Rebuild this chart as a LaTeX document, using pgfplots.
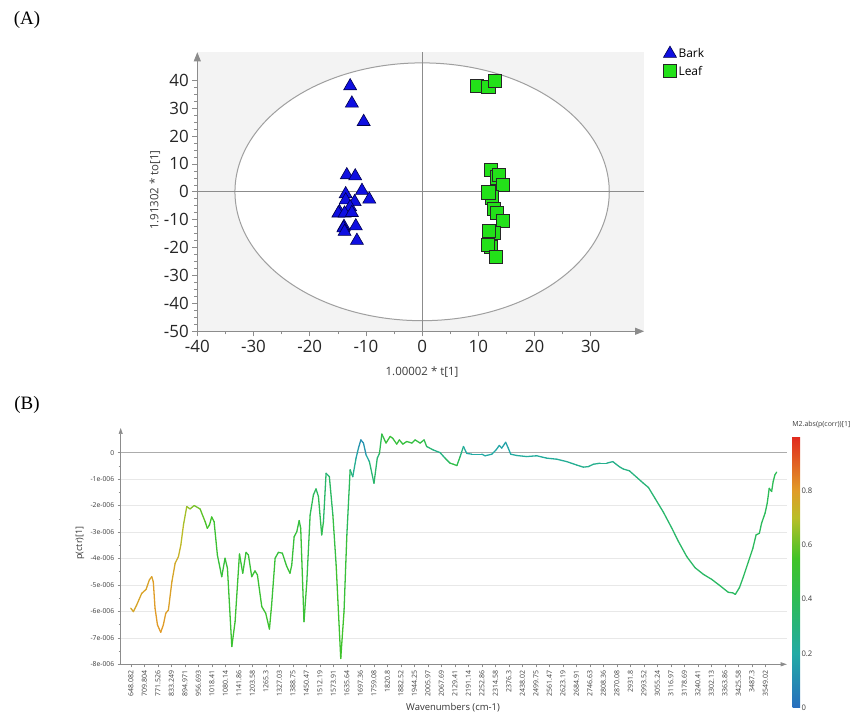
\documentclass[border=0pt]{standalone}
\usepackage{pgfplots}
\usepackage{pgfplotstable}
\pgfplotsset{compat=1.18}
\usepackage{fontspec}
\setmainfont{Open Sans}
\newfontfamily\seriffont{Liberation Serif}
\usetikzlibrary{arrows.meta}

\definecolor{barkblue}{RGB}{15,15,225}
\definecolor{leafgreen}{RGB}{35,225,25}
\definecolor{axgray}{RGB}{140,140,140}
\definecolor{bggray}{RGB}{243,243,243}
\definecolor{lblgray}{RGB}{60,60,60}

\pgfplotsset{colormap={simca}{rgb255(0pt)=(40,110,190); rgb255(20pt)=(35,170,165); rgb255(40pt)=(45,188,85); rgb255(55pt)=(65,195,40); rgb255(70pt)=(185,190,40); rgb255(80pt)=(225,155,40); rgb255(100pt)=(225,40,30)}}

% OPLS-DA scores
\pgfplotstableread{
t to
-12.8 37.9
-12.5 31.7
-10.4 25.1
-13.4 6.0
-11.9 5.6
-10.7 0.4
-9.4 -2.7
-13.6 -0.8
-13.6 -3.0
-12.0 -3.6
-12.8 -5.5
-14.7 -7.2
-14.9 -7.7
-13.8 -7.7
-12.5 -7.5
-13.9 -12.5
-14.0 -13.0
-11.8 -12.3
-13.8 -14.3
-11.6 -17.5
}\barkdata

\pgfplotstableread{
t to
9.8 38.0
11.8 37.6
12.9 39.8
12.2 7.8
13.4 5.2
13.6 6.0
14.4 2.4
12.4 -2.0
11.8 -0.2
12.7 -6.0
13.3 -7.5
14.3 -10.4
12.8 -14.8
11.9 -14.1
12.2 -19.7
11.7 -18.9
13.1 -23.3
}\leafdata

% loading p(ctr)[1] with |p(corr)|
\pgfplotstableread{
w v c
648 -5.88e-6 0.76
660 -6.01e-6 0.77
675 -5.76e-6 0.77
698 -5.32e-6 0.78
718 -5.17e-6 0.78
733 -4.81e-6 0.78
744 -4.69e-6 0.78
751 -4.88e-6 0.79
759 -5.88e-6 0.8
770 -6.51e-6 0.8
785 -6.79e-6 0.8
797 -6.51e-6 0.8
808 -6.07e-6 0.79
820 -5.95e-6 0.79
836 -4.88e-6 0.78
851 -4.18e-6 0.76
866 -3.93e-6 0.74
877 -3.49e-6 0.72
889 -2.73e-6 0.69
904 -2.04e-6 0.66
919 -2.13e-6 0.64
938 -2.00e-6 0.62
965 -2.13e-6 0.6
988 -2.61e-6 0.57
998 -2.86e-6 0.55
1008 -2.73e-6 0.55
1018 -2.43e-6 0.54
1029 -2.61e-6 0.53
1044 -3.87e-6 0.5
1064 -4.69e-6 0.48
1079 -3.99e-6 0.48
1090 -4.37e-6 0.5
1110 -7.33e-6 0.52
1125 -6.39e-6 0.52
1145 -3.83e-6 0.5
1160 -4.56e-6 0.5
1175 -3.77e-6 0.5
1186 -3.87e-6 0.5
1201 -4.69e-6 0.5
1216 -4.47e-6 0.5
1227 -4.62e-6 0.5
1247 -5.82e-6 0.52
1265 -6.07e-6 0.52
1282 -6.67e-6 0.53
1292 -5.76e-6 0.52
1308 -3.99e-6 0.48
1323 -3.77e-6 0.48
1341 -3.80e-6 0.48
1361 -4.30e-6 0.5
1376 -4.56e-6 0.5
1384 -4.25e-6 0.5
1395 -3.18e-6 0.48
1407 -2.99e-6 0.48
1418 -2.57e-6 0.46
1425 -2.86e-6 0.48
1440 -6.39e-6 0.52
1453 -4.88e-6 0.48
1468 -2.36e-6 0.42
1483 -1.60e-6 0.38
1495 -1.37e-6 0.37
1506 -1.66e-6 0.38
1521 -3.11e-6 0.44
1529 -2.61e-6 0.4
1541 -0.78e-6 0.3
1556 -0.91e-6 0.32
1572 -2.36e-6 0.42
1587 -4.25e-6 0.5
1608 -7.78e-6 0.55
1623 -6.01e-6 0.53
1636 -3.11e-6 0.45
1651 -0.65e-6 0.32
1663 -0.91e-6 0.3
1678 -0.21e-6 0.2
1689 0.17e-6 0.15
1700 0.48e-6 0.1
1712 0.36e-6 0.1
1724 -0.09e-6 0.16
1739 -0.34e-6 0.25
1760 -1.16e-6 0.4
1775 -0.21e-6 0.3
1785 -0.03e-6 0.35
1796 0.70e-6 0.45
1815 0.36e-6 0.48
1834 0.61e-6 0.5
1846 0.54e-6 0.48
1864 0.32e-6 0.48
1876 0.48e-6 0.48
1892 0.32e-6 0.47
1910 0.42e-6 0.47
1933 0.36e-6 0.46
1948 0.48e-6 0.46
1971 0.36e-6 0.45
1989 0.48e-6 0.45
2001 0.23e-6 0.38
2031 0.10e-6 0.28
2062 0.00 0.25
2085 -0.21e-6 0.32
2108 -0.40e-6 0.42
2123 -0.44e-6 0.45
2139 -0.49e-6 0.46
2154 -0.15e-6 0.35
2169 0.23e-6 0.22
2184 -0.03e-6 0.2
2207 -0.06e-6 0.2
2230 -0.06e-6 0.2
2253 -0.06e-6 0.2
2268 -0.12e-6 0.2
2299 -0.06e-6 0.2
2318 0.10e-6 0.2
2333 0.27e-6 0.18
2344 0.17e-6 0.18
2362 0.39e-6 0.17
2374 0.17e-6 0.18
2385 -0.06e-6 0.2
2413 -0.11e-6 0.22
2458 -0.15e-6 0.22
2504 -0.12e-6 0.22
2550 -0.21e-6 0.22
2596 -0.25e-6 0.23
2641 -0.34e-6 0.24
2687 -0.47e-6 0.25
2717 -0.55e-6 0.26
2740 -0.53e-6 0.26
2763 -0.44e-6 0.26
2794 -0.40e-6 0.26
2824 -0.40e-6 0.26
2852 -0.34e-6 0.26
2867 -0.44e-6 0.27
2885 -0.55e-6 0.28
2900 -0.62e-6 0.28
2928 -0.69e-6 0.29
2962 -0.94e-6 0.3
2992 -1.16e-6 0.31
3015 -1.32e-6 0.32
3045 -1.73e-6 0.33
3083 -2.25e-6 0.34
3122 -2.86e-6 0.35
3152 -3.36e-6 0.35
3190 -3.93e-6 0.36
3228 -4.35e-6 0.36
3266 -4.60e-6 0.36
3304 -4.79e-6 0.36
3342 -5.03e-6 0.37
3380 -5.28e-6 0.37
3400 -5.30e-6 0.37
3412 -5.36e-6 0.37
3431 -5.10e-6 0.37
3449 -4.69e-6 0.37
3472 -4.12e-6 0.38
3492 -3.62e-6 0.38
3507 -3.11e-6 0.38
3522 -3.05e-6 0.38
3532 -2.67e-6 0.38
3548 -2.29e-6 0.39
3558 -1.91e-6 0.39
3567 -1.35e-6 0.4
3578 -1.47e-6 0.4
3585 -1.10e-6 0.4
3593 -0.84e-6 0.4
3601 -0.74e-6 0.4
}\spec

\begin{document}
\begin{tikzpicture}[x=1bp,y=1bp]
\useasboundingbox (0,0) rectangle (855,712);
\node[font=\seriffont\fontsize{19}{19}\selectfont] at (27,692) {(A)};
\node[font=\seriffont\fontsize{19}{19}\selectfont] at (27,307) {(B)};
\coordinate (cbpos) at (792.7,4);

% ---------- (A) scores plot ----------
\begin{axis}[
  at={(197.3bp,380.7bp)}, anchor=south west,
  scale only axis, width=446.8bp, height=279bp,
  xmin=-40, xmax=39.5, ymin=-50, ymax=50,
  axis lines=left,
  axis line style={axgray, line width=0.8bp, -{Triangle[length=9bp,width=7bp]}},
  axis background/.style={fill=bggray},
  xtick={-40,-30,...,30}, ytick={-50,-40,...,40},
  minor x tick num=1, minor y tick num=3,
  tick align=outside, major tick length=5bp, minor tick length=3bp,
  tick style={axgray, line width=0.6bp},
  tick label style={font=\fontsize{17}{17}\selectfont, text=black!85},
  /pgf/number format/assume math mode=true,
  xlabel={1.00002 * t[1]}, ylabel={1.91302 * to[1]},
  every axis x label/.style={at={(axis description cs:0.503,-0.146)}, anchor=center,
    font=\fontsize{11.5}{12}\selectfont, text=lblgray},
  every axis y label/.style={at={(axis description cs:-0.095,0.506)}, anchor=center, rotate=90,
    font=\fontsize{11.5}{12}\selectfont, text=lblgray},
  legend style={at={(1.036,1.03)}, anchor=north west, draw=none, fill=none,
    font=\fontsize{12}{14}\selectfont, row sep=3bp},
  legend cell align=left,
  clip=false,
]
\fill[white] (axis cs:0,0) ellipse [x radius=33.3, y radius=46.2];
\draw[gray!75, line width=1bp] (axis cs:0,0) ellipse [x radius=33.3, y radius=46.2];
\draw[axgray, line width=0.9bp] (axis cs:0,-50) -- (axis cs:0,50);
\draw[axgray, line width=0.9bp] (axis cs:-40,0) -- (axis cs:39.5,0);
\addplot[only marks, mark=triangle*, mark size=7.5bp,
  mark options={fill=barkblue, draw=black!70!blue, line width=0.6bp}]
  table[x=t, y=to] {\barkdata};
\addlegendentry{Bark}
\addplot[only marks, mark=square*, mark size=6.6bp,
  mark options={fill=leafgreen, draw=black!85, line width=0.7bp}]
  table[x=t, y=to] {\leafdata};
\addlegendentry{Leaf}
\end{axis}

% ---------- (B) loading line plot ----------
\begin{axis}[
  at={(120.7bp,47.7bp)}, anchor=south west,
  scale only axis, width=666bp, height=236.3bp,
  xmin=602, xmax=3647, ymin=-8e-6, ymax=0.93e-6,
  axis lines=left,
  axis line style={axgray, line width=0.7bp, -{Triangle[length=6bp,width=4bp]}},
  scaled y ticks=false,
  ytick={-8e-6,-7e-6,-6e-6,-5e-6,-4e-6,-3e-6,-2e-6,-1e-6,0},
  yticklabels={-8e-006,-7e-006,-6e-006,-5e-006,-4e-006,-3e-006,-2e-006,-1e-006,0},
  xtick={648.082,709.804,771.526,833.249,894.971,956.693,1018.41,1080.14,1141.86,1203.58,1265.3,1327.03,1388.75,1450.47,1512.19,1573.91,1635.64,1697.36,1759.08,1820.8,1882.52,1944.25,2005.97,2067.69,2129.41,2191.14,2252.86,2314.58,2376.3,2438.02,2499.75,2561.47,2623.19,2684.91,2746.63,2808.36,2870.08,2931.8,2993.52,3055.24,3116.97,3178.69,3240.41,3302.13,3363.86,3425.58,3487.3,3549.02},
  xticklabels={648.082,709.804,771.526,833.249,894.971,956.693,1018.41,1080.14,1141.86,1203.58,1265.3,1327.03,1388.75,1450.47,1512.19,1573.91,1635.64,1697.36,1759.08,1820.8,1882.52,1944.25,2005.97,2067.69,2129.41,2191.14,2252.86,2314.58,2376.3,2438.02,2499.75,2561.47,2623.19,2684.91,2746.63,2808.36,2870.08,2931.8,2993.52,3055.24,3116.97,3178.69,3240.41,3302.13,3363.86,3425.58,3487.3,3549.02},
  x tick label style={rotate=90, anchor=east, font=\fontsize{7}{7}\selectfont, text=lblgray},
  y tick label style={font=\fontsize{6.8}{7}\selectfont, text=lblgray},
  minor y tick num=1,
  tick align=outside, major tick length=3bp, minor tick length=2bp,
  tick style={axgray, line width=0.5bp},
  ymajorgrids, grid style={gray!18, line width=0.6bp},
  xlabel={Wavenumbers (cm-1)}, ylabel={p(ctr)[1]},
  every axis x label/.style={at={(axis description cs:0.499,-0.185)}, anchor=center,
    font=\fontsize{9.5}{10}\selectfont, text=black!80},
  every axis y label/.style={at={(axis description cs:-0.061,0.513)}, anchor=center, rotate=90,
    font=\fontsize{9}{10}\selectfont, text=black!80},
  colormap name=simca,
  point meta min=0, point meta max=1,
  colorbar,
  colorbar shift/.style={},
  colorbar style={
    at={(cbpos)}, anchor=south west,
    scale only axis, width=7.3bp, height=272bp,
    axis line style={draw=none},
    ytick={0,0.2,0.4,0.6,0.8}, yticklabels={0,0.2,0.4,0.6,0.8},
    major tick length=0pt, minor tick num=0,
    yticklabel style={font=\fontsize{7.7}{8}\selectfont, text=lblgray, xshift=-2bp},
    title={M2.abs(p(corr))[1]},
    title style={at={(0,1)}, anchor=south west, xshift=-1.5bp, yshift=1bp,
      font=\fontsize{7}{8}\selectfont, text=lblgray, inner sep=1bp},
  },
  clip=false,
]
\draw[gray!65, line width=1bp] (axis cs:602,0) -- (axis cs:3647,0);
\addplot[mesh, point meta=explicit, line width=1.3bp, line join=round, line cap=round]
  table[x=w, y=v, meta=c] {\spec};
\end{axis}
\end{tikzpicture}
\end{document}
